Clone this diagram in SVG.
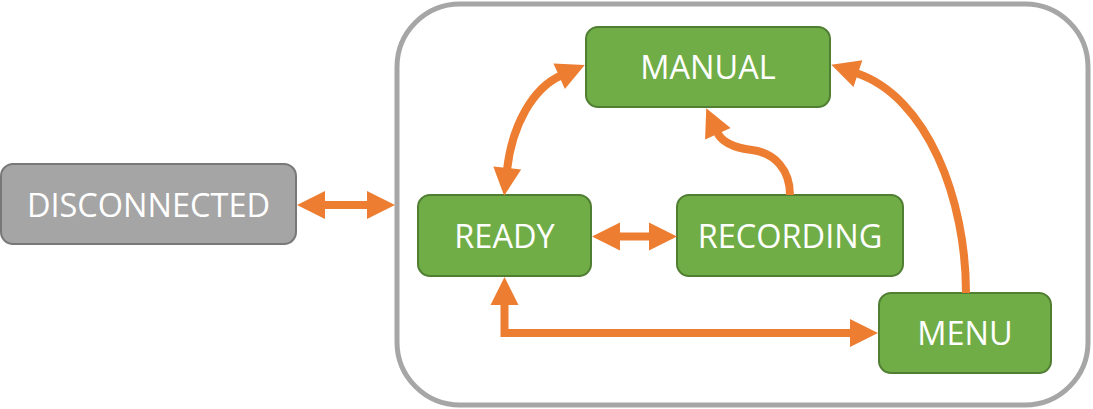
<svg xmlns="http://www.w3.org/2000/svg" width="1093" height="409" viewBox="0 0 1093 409">
<style>
.state rect{fill:#70AD47;stroke:#507E32;stroke-width:2}
.off rect{fill:#A5A5A5;stroke:#787878;stroke-width:2}
text{font-family:"Open Sans","Noto Sans",sans-serif;font-size:32.5px;fill:#FFFFFF;text-anchor:middle}
.conn path{fill:none;stroke:#ED7D31;stroke-width:8;stroke-linejoin:miter}
</style>
<defs>
<marker id="ah" markerUnits="userSpaceOnUse" markerWidth="32" markerHeight="32" viewBox="0 -16 32 32" refX="2" refY="0" orient="auto-start-reverse" overflow="visible">
<path d="M0,-14 L28,0 L0,14 z" fill="#ED7D31"/>
</marker>
</defs>
<rect id="container" x="397" y="4" width="691" height="401" rx="63" ry="63" fill="#FFFFFF" stroke="#A6A6A6" stroke-width="5"/>
<g id="DISCONNECTED" class="off"><rect x="1" y="164" width="295" height="80" rx="12"/><text x="148.5" y="216.5">DISCONNECTED</text></g>
<g id="MANUAL" class="state"><rect x="586" y="27" width="244" height="80" rx="12"/><text x="708" y="78.5">MANUAL</text></g>
<g id="READY" class="state"><rect x="418" y="195" width="173" height="81" rx="12"/><text x="504.5" y="247.5">READY</text></g>
<g id="RECORDING" class="state"><rect x="677" y="195" width="226" height="81" rx="12"/><text x="790" y="247.5">RECORDING</text></g>
<g id="MENU" class="state"><rect x="879" y="293" width="172" height="80" rx="12"/><text x="965" y="344.5">MENU</text></g>
<g id="connectors" class="conn">
<path d="M323,205 H369" marker-start="url(#ah)" marker-end="url(#ah)"/>
<path d="M618,236.5 H651" marker-start="url(#ah)" marker-end="url(#ah)"/>
<path d="M504.5,303 V333 H852" marker-start="url(#ah)" marker-end="url(#ah)"/>
<path d="M507,170 C512,125 533,88 561,75.5" marker-start="url(#ah)" marker-end="url(#ah)"/>
<path d="M790,195 C790,170 775,153 752,150 C735,148 722,143 717,132" marker-end="url(#ah)"/>
<path d="M966,293 C966,200 928,97 856,73" marker-end="url(#ah)"/>
</g>
</svg>
